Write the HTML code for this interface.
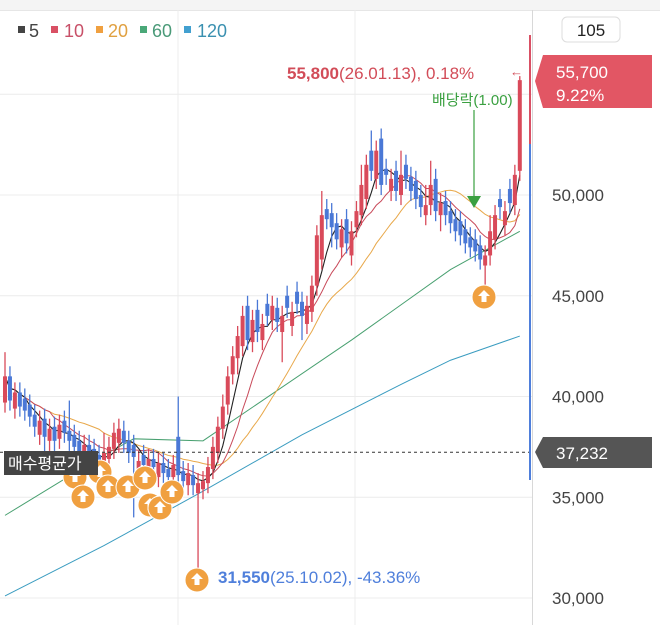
<!DOCTYPE html>
<html><head><meta charset="utf-8"><style>
html,body{margin:0;padding:0;background:#fff;}
body{width:660px;height:625px;overflow:hidden;font-family:"Liberation Sans","Noto Sans CJK KR",sans-serif;}
svg text{font-family:"Liberation Sans","Noto Sans CJK KR",sans-serif;}
</style></head><body>
<svg id="chart" width="660" height="625" viewBox="0 0 660 625" xmlns="http://www.w3.org/2000/svg">
<rect x="0" y="0" width="660" height="10" fill="#f4f4f4"/>
<line x1="0" y1="10.5" x2="660" y2="10.5" stroke="#e6e6e6"/>
<g id="grid"></g>
<g id="ma"></g>
<g id="candles"></g>
<g id="markers"></g>
<g id="overlay"></g>
<g id="legend">
 <rect x="18" y="26" width="7" height="7" fill="#444"/><text x="29" y="37" font-size="18" fill="#444">5</text>
 <rect x="51" y="26" width="7" height="7" fill="#d95064"/><text x="64" y="37" font-size="18" fill="#c85068">10</text>
 <rect x="96" y="26" width="7" height="7" fill="#f0a040"/><text x="108" y="37" font-size="18" fill="#e0a040">20</text>
 <rect x="140" y="26" width="7" height="7" fill="#4aa878"/><text x="152" y="37" font-size="18" fill="#4a9a78">60</text>
 <rect x="184" y="26" width="7" height="7" fill="#42a0d0"/><text x="197" y="37" font-size="18" fill="#3a90b0">120</text>
</g>
</svg>
<script>
var closes=[410,398,402,395,393,390,385,388,380,384,378,386,382,378,375,372,376,370,368,365,372,375,382,384,377,372,370,368,366,369,365,367,362,360,366,361,358,362,356,357,358,365,375,385,395,410,420,430,440,428,438,432,436,440,445,437,440,444,442,446,440,445,455,480,490,488,484,478,483,476,482,492,505,515,512,522,505,510,508,502,510,508,502,498,494,495,505,492,496,490,486,482,480,476,474,472,468,470,482,490,494,492,496,510,557];
var opens=[397,410,394,402,399,396,391,381,389,378,385,379,388,383,381,378,369,376,374,371,366,369,374,377,383,378,376,362,371,363,369,360,367,364,360,380,363,356,361,352,354,357,364,372,384,396,411,419,425,445,427,443,428,446,438,444,432,450,435,452,447,436,442,455,468,493,491,486,474,488,470,484,490,498,522,508,528,513,502,512,500,515,509,507,500,490,495,508,490,497,492,488,487,483,479,478,475,465,470,478,498,485,503,495,512];
var wickUpIdx=[0,13,20,35,44,64,72,74,80,85,86,98,104];
var wickUpVal=[12,15,10,20,6,12,10,10,12,10,12,8,2];
var wickDnIdx=[8,26,35,39,47,56,60,66,88,97,100];
var wickDnVal=[15,30,10,42,8,15,12,10,8,17,6];
var ma60Idx=[0,20,26,40,52,70,90,104];
var ma60Val=[341,371,379,378,398,428,463,482];
var ma120Idx=[0,20,40,60,80,90,104];
var ma120Val=[301,326,353,381,406,418,430];
var yTicks=[30000,35000,40000,45000,50000,55000];
var markerIdx=[14,16,19,21,25,28,29,31,34,39,97];
var markerY=[477,497,472,487,487,478,505,508,492,580,297];

(function(){
var NS="http://www.w3.org/2000/svg";
function el(tag,attrs,parent){var e=document.createElementNS(NS,tag);for(var k in attrs)e.setAttribute(k,attrs[k]);parent.appendChild(e);return e;}
function X(i){return 5+i*4.95;}
function Y(v){return 195+(50000-v)*0.02015;}
function Yh(h){return Y(h*100);}
var grid=document.getElementById('grid'),cg=document.getElementById('candles'),mg=document.getElementById('ma'),mk=document.getElementById('markers'),ov=document.getElementById('overlay');

yTicks.forEach(function(t){
 var y=Y(t);
 var l=el('line',{x1:0,x2:532,y1:y,y2:y,stroke:'#ececec','stroke-width':1},grid);
 
 
 if(t<55000){var tx=el('text',{x:552,y:y+6,'font-size':17,fill:'#444'},grid);tx.textContent=t.toLocaleString('en-US');
 
 }
});
[178,355].forEach(function(x){var l=el('line',{x1:x,x2:x,y1:10,y2:625,stroke:'#ececec'},grid);
 
 });
var sep=el('line',{x1:532.5,x2:532.5,y1:10,y2:625,stroke:'#d8d8d8'},grid);



for(var i=0;i<closes.length;i++){
 var o=opens[i]!==undefined?opens[i]:closes[i], c=closes[i];
 var up=wickUpIdx.indexOf(i)>=0?wickUpVal[wickUpIdx.indexOf(i)]:5;
 var dn=wickDnIdx.indexOf(i)>=0?wickDnVal[wickDnIdx.indexOf(i)]:5;
 var hi=Math.max(o,c)+up, lo=Math.min(o,c)-dn;
 var col=c>=o?'#d94a5a':'#4a78d6';
 var w=el('line',{x1:X(i),x2:X(i),y1:Yh(hi),y2:Yh(lo),stroke:col,'stroke-width':1.3},cg);
 
 
 var bodyTop=Yh(Math.max(o,c)),bodyH=Math.max(2,Yh(Math.min(o,c))-bodyTop);
 var b=el('rect',{x:X(i)-2,y:bodyTop,width:4,height:bodyH,fill:col},cg);
 
 
}
function maLine(n,color,name,sw){
 var pts=[];
 for(var i=0;i<closes.length;i++){var s=0,k=0;for(var j=Math.max(0,i-n+1);j<=i;j++){s+=closes[j];k++;}pts.push(X(i)+','+Yh(s/k));}
 var p=el('polyline',{points:pts.join(' '),fill:'none',stroke:color,'stroke-width':sw||1},mg);
 
 
}
function sparseLine(idx,val,color,name){
 var pts=idx.map(function(i,k){return X(i)+','+Yh(val[k]);});
 var p=el('polyline',{points:pts.join(' '),fill:'none',stroke:color,'stroke-width':1},mg);
 
 
}
sparseLine(ma120Idx,ma120Val,'#3a9cc0','ma120-line');
sparseLine(ma60Idx,ma60Val,'#48a070','ma60-line');
maLine(20,'#e8a84a','ma20-line');
maLine(10,'#c84a5a','ma10-line');
maLine(5,'#222','ma5-line',1.1);

var dl=el('line',{x1:0,x2:532,y1:Y(37232),y2:Y(37232),stroke:'#333','stroke-dasharray':'3,3','stroke-width':1},ov);



var markerX=[75,83,100,108,128,145,150,160,172,197,484];
markerIdx.forEach(function(i,k){
 var g=el('g',{},mk);
 
 
 var cx=markerX[k], cy=markerY[k];
 el('circle',{cx:cx,cy:cy,r:12,fill:'#f0a040',stroke:'#fff','stroke-width':1},g);
 el('path',{d:'M'+cx+' '+(cy-7)+' l6 6 h-3.5 v6 h-5 v-6 h-3.5z',fill:'#fff'},g);
});
})();
</script>
<svg style="position:absolute;left:0;top:0" width="660" height="625">
 <rect x="4" y="451" width="94" height="24" fill="#444"/>
 <text x="8" y="469" font-size="16" fill="#fff" font-family="Noto Sans CJK KR, sans-serif">매수평균가</text>
 <text x="287" y="79" font-size="17" fill="#d24c58"><tspan font-weight="bold">55,800</tspan>(26.01.13), 0.18%</text>
 <text x="510" y="76" font-size="13" fill="#d24c58">←</text>
 <text x="432" y="105" font-size="15" fill="#3aa040" font-family="Liberation Sans, Noto Sans CJK KR, sans-serif">배당락(1.00)</text>
 <line x1="474" y1="110" x2="474" y2="197" stroke="#3aa040" stroke-width="1.2"/>
 <path d="M467 196 L481 196 L474 208Z" fill="#3aa040"/>
 <text x="218" y="583" font-size="17" fill="#4f7fdb"><tspan font-weight="bold">31,550</tspan>(25.10.02), -43.36%</text>
 <line x1="530" y1="35" x2="530" y2="144" stroke="#d95064" stroke-width="2"/>
 <line x1="530" y1="144" x2="530" y2="480" stroke="#4f7fdb" stroke-width="2"/>
 <rect x="562" y="17" width="58" height="25" rx="5" fill="#fff" stroke="#ddd"/>
 <text x="591" y="36" font-size="17" fill="#222" text-anchor="middle">105</text>
 <path d="M543 55 H652 V108 H543 L535 81Z" fill="#e25664"/>
 <text x="556" y="78" font-size="17" fill="#fff">55,700</text>
 <text x="556" y="101" font-size="17" fill="#fff">9.22%</text>
 <path d="M543 437 H652 V468 H543 L535 452Z" fill="#555"/>
 <text x="556" y="459" font-size="17" fill="#fff">37,232</text>
</svg>
</body></html>
